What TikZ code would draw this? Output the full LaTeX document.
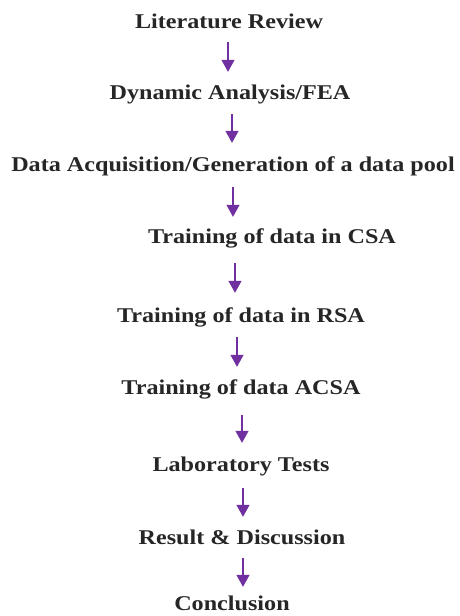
\documentclass[tikz,border=0pt]{standalone}
\usepackage{fontspec}
\setmainfont{Liberation Serif}[FakeStretch=1.15]
\usetikzlibrary{arrows.meta}

\definecolor{stepgray}{HTML}{262626}
\definecolor{flowpurple}{HTML}{7030A0}

\tikzset{
  stage/.style={inner sep=0pt, text=stepgray, font=\fontsize{21}{24}\selectfont\bfseries,
                text height=16.5pt, text depth=1.5pt},
  arrow/.style={-{Triangle[width=13pt,length=12pt]}, draw=flowpurple, fill=flowpurple, line width=1.4pt},
}

\begin{document}
\begin{tikzpicture}[x=1pt, y=1pt]
  \useasboundingbox (0,0) rectangle (460,-616);

  % Stages of the work, top to bottom
  \node[stage] (lit)  at (229,-21)  {Literature Review};
  \node[stage] (dyn)  at (230,-92)  {Dynamic Analysis/FEA};
  \node[stage] (data) at (233,-164) {Data Acquisition/Generation of a data pool};
  \node[stage] (csa)  at (272,-236) {Training of data in CSA};
  \node[stage] (rsa)  at (241,-315) {Training of data in RSA};
  \node[stage] (acsa) at (241,-387) {Training of data ACSA};
  \node[stage] (lab)  at (241,-464) {Laboratory Tests};
  \node[stage] (res)  at (242,-537) {Result \& Discussion};
  \node[stage] (conc) at (232,-603) {Conclusion};

  % Arrows between the stages
  \draw[arrow] ([xshift=-1pt,yshift=-12pt]lit.south)  -- ([xshift=-2pt,yshift=11pt]dyn.north);
  \draw[arrow] ([xshift=2pt,yshift=-13pt]dyn.south)   -- ([xshift=-1pt,yshift=12pt]data.north);
  \draw[arrow] ([yshift=-14pt]data.south)             -- ([xshift=-39pt,yshift=10pt]csa.north);
  \draw[arrow] ([xshift=-37pt,yshift=-18pt]csa.south) -- ([xshift=-6pt,yshift=13pt]rsa.north);
  \draw[arrow] ([xshift=-4pt,yshift=-13pt]rsa.south)  -- ([xshift=-4pt,yshift=11pt]acsa.north);
  \draw[arrow] ([xshift=1pt,yshift=-19pt]acsa.south)  -- ([xshift=1pt,yshift=12pt]lab.north);
  \draw[arrow] ([xshift=2pt,yshift=-15pt]lab.south)   -- ([xshift=1pt,yshift=11pt]res.north);
  \draw[arrow] ([xshift=1pt,yshift=-12pt]res.south)   -- ([xshift=11pt,yshift=7pt]conc.north);
\end{tikzpicture}
\end{document}
